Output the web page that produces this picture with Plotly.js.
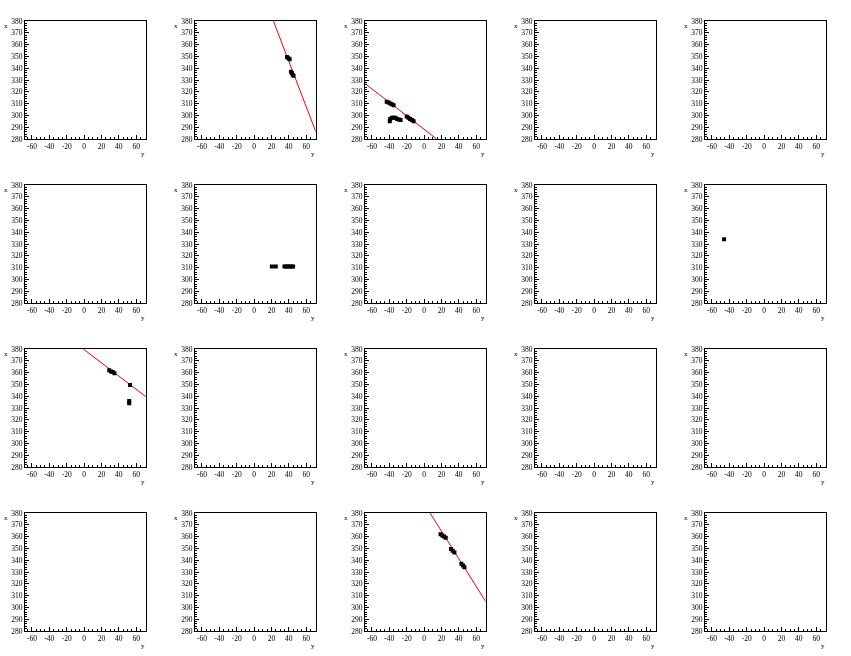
<!DOCTYPE html>
<html><head><meta charset="utf-8">
<script src="https://cdn.plot.ly/plotly-3.0.1.min.js"></script>
<style>html,body{margin:0;padding:0;background:#fff}#c{width:851px;height:656px}
.main-svg{will-change:transform}</style>
</head><body><div id="c"></div>
<script>
// axis settings (horizontal axis is "y", vertical axis is "x")
const hRange = [-68, 71];
const vRange = [280, 380];
const hTicks = [-60, -40, -20, 0, 20, 40, 60];
const vTicks = [280, 290, 300, 310, 320, 330, 340, 350, 360, 370, 380];
const hTitle = "y";
const vTitle = "x";

// pad 2 (row 1, col 2)
const pad2_h = [38, 39.5, 41, 42.5, 43.5, 44.5, 45.5];
const pad2_v = [349.5, 348.5, 347.5, 337, 336, 334.5, 333.5];
const pad2_lineH = [22.3, 71.1];
const pad2_lineV = [380, 286.2];

// pad 3 (row 1, col 3)
const pad3_h = [-43, -41, -39, -37, -35, -39.5, -39, -37, -35, -33, -31, -29, -27, -20, -18, -16, -14, -12];
const pad3_v = [311.5, 311, 310, 309.5, 308.5, 295, 297, 298, 298, 298, 297, 296.5, 296, 299, 298, 297, 296, 295];
const pad3_lineH = [-68, 14.6];
const pad3_lineV = [327, 280];

// pad 7 (row 2, col 2)
const pad7_h = [20.5, 25, 35, 37, 39, 41, 43, 45];
const pad7_v = [311, 311, 311, 311, 311, 311, 311, 311];

// pad 10 (row 2, col 5)
const pad10_h = [-46];
const pad10_v = [334];

// pad 11 (row 3, col 1)
const pad11_h = [29, 31, 33, 35, 53, 52, 52];
const pad11_v = [362, 361, 360.5, 359.5, 349.5, 336, 334];
const pad11_lineH = [-0.8, 71.2];
const pad11_lineV = [380, 339.6];

// pad 18 (row 4, col 3)
const pad18_h = [19, 21, 23, 25, 31, 33, 35, 43, 45, 46.5];
const pad18_v = [362, 361, 360, 359, 349.5, 348, 346.5, 337, 335.5, 334];
const pad18_lineH = [6.9, 71.2];
const pad18_lineV = [380, 304.8];

const pointSets = [
  [2, pad2_h, pad2_v], [3, pad3_h, pad3_v], [7, pad7_h, pad7_v],
  [10, pad10_h, pad10_v], [11, pad11_h, pad11_v], [18, pad18_h, pad18_v]
];
const lineSets = [
  [2, pad2_lineH, pad2_lineV], [3, pad3_lineH, pad3_lineV],
  [11, pad11_lineH, pad11_lineV], [18, pad18_lineH, pad18_lineV]
];

const W = 851, H = 656;
const nCols = 5, nRows = 4;
const padW = 170, padH = 164;
const frameL = 25, frameW = 120.7, frameT = 21, frameH = 118;

const fam = "Liberation Serif";
const layout = {
  width: W, height: H,
  margin: {l: 0, r: 0, t: 0, b: 0},
  paper_bgcolor: "#fff", plot_bgcolor: "#fff",
  showlegend: false,
  font: {family: fam, size: 7.5, color: "#000"},
  annotations: []
};
const data = [];

function sfx(n) { return n === 1 ? "" : String(n); }

for (let i = 0; i < nCols * nRows; i++) {
  const n = i + 1;
  const r = Math.floor(i / nCols), c = i % nCols;
  const x0 = frameL + padW * c, x1 = x0 + frameW;
  const yTop = frameT + padH * r, yBot = yTop + frameH;
  const common = {
    showline: true, mirror: true, linecolor: "#000", linewidth: 1,
    showgrid: false, zeroline: false,
    ticks: "inside", ticklen: 4, tickwidth: 1, tickcolor: "#000",
    tickfont: {family: fam, size: 7.5, color: "#000"}, fixedrange: true
  };
  layout["xaxis" + sfx(n)] = Object.assign({}, common, {
    domain: [x0 / W, x1 / W], range: hRange, anchor: "y" + sfx(n),
    tickvals: hTicks, ticktext: hTicks.map(String),
    minor: {ticks: "inside", ticklen: 2, dtick: 5, tick0: 0, tickcolor: "#000"}
  });
  layout["yaxis" + sfx(n)] = Object.assign({}, common, {
    domain: [(H - yBot) / H, (H - yTop) / H], range: vRange, anchor: "x" + sfx(n),
    tickvals: vTicks, ticktext: vTicks.map(String),
    minor: {ticks: "inside", ticklen: 2, dtick: 2, tick0: 0, tickcolor: "#000"}
  });
  layout.annotations.push({
    xref: "paper", yref: "paper", x: (x0 - 15) / W, y: (H - yTop + 1) / H,
    text: vTitle, showarrow: false, xanchor: "right", yanchor: "top",
    font: {family: fam, size: 7, color: "#000"}
  });
  layout.annotations.push({
    xref: "paper", yref: "paper", x: (x1 - 3) / W, y: (H - yBot - 9) / H,
    text: hTitle, showarrow: false, xanchor: "center", yanchor: "top",
    font: {family: fam, size: 7, color: "#000"}
  });
  data.push({type: "scatter", mode: "markers", x: [], y: [], xaxis: "x" + sfx(n), yaxis: "y" + sfx(n), hoverinfo: "skip"});
}

lineSets.forEach(([n, h, v]) => {
  data.push({type: "scatter", mode: "lines", x: h, y: v,
    xaxis: "x" + sfx(n), yaxis: "y" + sfx(n),
    line: {color: "#ff0000", width: 1}, hoverinfo: "skip"});
});
pointSets.forEach(([n, h, v]) => {
  data.push({type: "scatter", mode: "markers", x: h, y: v,
    xaxis: "x" + sfx(n), yaxis: "y" + sfx(n),
    marker: {symbol: "square", size: 4, color: "#000", line: {width: 0}}, hoverinfo: "skip"});
});

Plotly.newPlot("c", data, layout, {staticPlot: true, displayModeBar: false});
</script></body></html>
